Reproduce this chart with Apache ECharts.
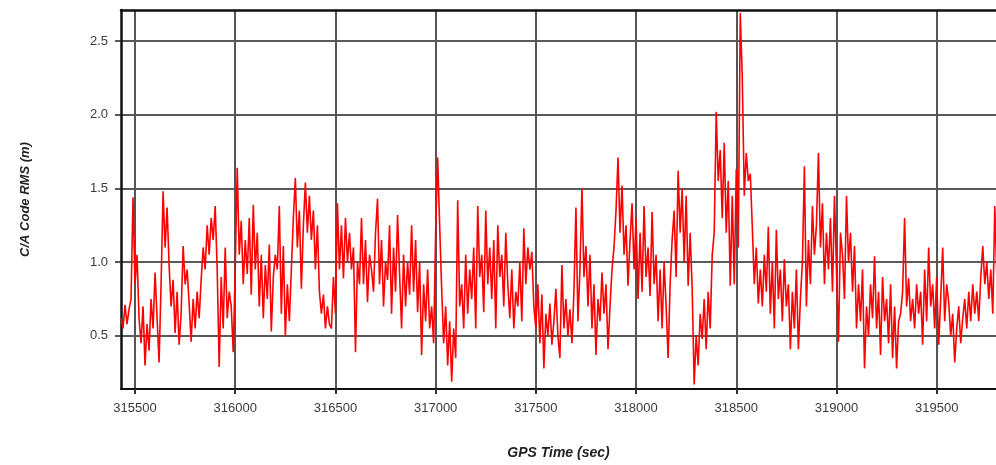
<!DOCTYPE html>
<html><head><meta charset="utf-8">
<script src="https://cdn.jsdelivr.net/npm/echarts@6/dist/echarts.min.js"></script>
<style>html,body{margin:0;padding:0;background:#fff}#c{width:996px;height:465px}</style>
</head><body><div id="c"></div>
<script>
// GPS time of first sample and sample spacing (seconds)
const startTime = 315430;
const stepSec = 10;
// C/A code RMS (m)
const rmsValues = [
0.62,0.55,0.71,0.58,0.68, 0.75,1.44,0.85,1.05,0.62, 0.45,0.70,0.30,0.58,0.40, 0.75,0.55,0.93,0.62,0.32,
0.85,1.48,1.10,1.37,0.98, 0.70,0.88,0.52,0.80,0.44, 0.65,1.11,0.85,0.95,0.72, 0.46,0.75,0.55,0.80,0.62,
0.88,1.10,0.95,1.25,1.05, 1.30,1.15,1.38,0.95,0.29, 0.90,0.55,1.10,0.62,0.80, 0.70,0.39,0.95,1.64,1.05,
1.28,0.85,1.15,0.92,1.30, 0.78,1.39,0.95,1.20,0.70, 1.05,0.62,0.98,0.75,1.12, 0.53,0.90,1.05,0.95,1.38,
0.65,1.11,0.50,0.85,0.60, 0.95,1.30,1.57,1.10,1.35, 0.82,1.25,1.54,1.20,1.45, 1.15,1.35,0.95,1.25,0.80,
0.65,0.78,0.55,0.70,0.58, 0.55,0.90,0.65,1.40,0.95, 1.25,0.89,1.30,1.00,1.20, 0.95,1.10,0.39,1.00,0.85,
1.30,0.85,1.15,0.73,1.05, 0.95,0.80,1.20,1.43,0.85, 1.15,0.70,1.00,0.88,1.25, 0.65,1.10,0.80,1.32,0.92,
0.55,1.05,0.70,1.00,0.78, 1.25,0.80,1.15,0.66,1.00, 0.37,0.85,0.60,0.95,0.55, 0.70,0.45,1.20,1.71,1.25,
0.82,0.45,0.70,0.30,0.60, 0.19,0.55,0.35,1.42,0.70, 0.85,0.55,1.05,0.65,0.95, 0.75,1.10,0.55,1.38,0.90,
1.05,0.66,1.35,0.85,1.10, 0.75,1.15,0.55,1.25,0.90, 1.05,0.70,1.20,0.85,0.62, 0.95,0.55,0.80,0.70,1.00,
0.60,1.23,0.85,1.10,0.95, 1.07,0.70,0.55,0.85,0.45, 0.78,0.28,0.65,0.50,0.72, 0.44,0.60,0.82,0.50,0.35,
0.98,0.55,0.75,0.50,0.68, 0.45,0.80,1.37,0.60,0.95, 1.50,0.90,1.11,0.70,1.05, 0.55,0.85,0.37,0.75,0.60,
0.93,0.65,0.85,0.41,0.70, 0.95,1.10,1.35,1.71,1.20, 1.52,1.05,1.25,0.84,1.15, 1.40,0.95,1.30,0.75,1.20,
0.80,1.38,0.90,1.10,0.77, 1.34,0.85,1.05,0.60,0.95, 0.55,1.00,0.70,0.35,0.85, 1.15,1.35,0.90,1.62,1.20,
1.50,1.00,1.45,0.84,1.20, 0.82,0.17,0.50,0.30,0.65, 0.48,0.75,0.41,0.80,0.55, 1.05,1.20,2.02,1.55,1.76,
1.30,1.81,1.20,1.55,0.84, 1.45,0.85,1.63,1.10,2.69, 2.25,1.45,1.74,1.55,1.60, 1.24,0.85,1.10,0.72,0.95,
0.70,1.05,0.80,1.24,0.65, 1.00,0.55,1.22,0.75,0.95, 0.60,1.02,0.70,0.85,0.41, 0.80,0.55,0.95,0.41,0.75,
1.00,1.65,0.70,1.15,0.85, 1.38,1.05,1.25,1.74,1.10, 1.40,0.85,1.20,0.95,1.30, 0.80,1.45,0.95,0.46,1.20,
1.05,0.75,1.45,1.00,1.20, 0.80,1.11,0.55,0.85,0.60, 0.95,0.28,0.70,0.50,0.85, 0.62,1.04,0.55,0.80,0.37,
0.90,0.60,0.75,0.45,0.85, 0.35,0.70,0.28,0.60,0.65, 0.80,1.30,0.70,0.89,0.60, 0.75,0.55,0.85,0.65,0.80,
0.44,0.95,0.60,1.10,0.70, 0.85,0.55,0.90,0.44,0.75, 1.10,0.60,0.85,0.73,0.50, 0.65,0.32,0.55,0.70,0.45,
0.62,0.75,0.55,0.80,0.60, 0.85,0.65,0.80,0.60,0.90, 1.11,0.85,1.00,0.75,0.95, 0.65,1.38,0.90
];
const xTicks = [315500,316000,316500,317000,317500,318000,318500,319000,319500];
const yTicks = [0.5,1.0,1.5,2.0,2.5];
const xRange = [315430, 319796];
const yRange = [0.14, 2.71];
const xTitle = 'GPS Time (sec)';
const yTitle = 'C/A Code RMS (m)';

const seriesData = rmsValues.map((v, i) => [startTime + i * stepSec, v]);
const font = 'Arial, Liberation Sans';

const chart = echarts.init(document.getElementById('c'), null, {renderer: 'canvas'});
chart.setOption({
  animation: false,
  backgroundColor: '#ffffff',
  grid: {left: 121, top: 10, right: 0, bottom: 75, show: false},
  xAxis: [{
    type: 'value', min: xRange[0], max: xRange[1],
    name: xTitle, nameLocation: 'middle', nameGap: 57,
    nameTextStyle: {fontFamily: font, fontSize: 14, fontWeight: 'bold', fontStyle: 'italic', color: '#222'},
    axisLine: {show: true, lineStyle: {color: '#111', width: 2}},
    axisTick: {show: true, length: 5, customValues: xTicks, lineStyle: {color: '#333', width: 2}},
    axisLabel: {customValues: xTicks, margin: 13, fontFamily: font, fontSize: 13, color: '#3a3a3a', formatter: v => String(v)},
    splitLine: {show: true, lineStyle: {color: '#555', width: 2}}
  }, {
    type: 'value', position: 'top', min: xRange[0], max: xRange[1],
    axisLine: {show: true, onZero: false, lineStyle: {color: '#111', width: 2.5}},
    axisTick: {show: false}, axisLabel: {show: false}, splitLine: {show: false}
  }],
  yAxis: {
    type: 'value', min: yRange[0], max: yRange[1],
    name: yTitle, nameLocation: 'middle', nameGap: 89, nameRotate: 90,
    nameTextStyle: {fontFamily: font, fontSize: 13, fontWeight: 'bold', fontStyle: 'italic', color: '#222'},
    axisLine: {show: true, lineStyle: {color: '#111', width: 2.5}},
    axisTick: {show: true, length: 6, customValues: yTicks, lineStyle: {color: '#222', width: 1.5}},
    axisLabel: {customValues: yTicks, margin: 13, fontFamily: font, fontSize: 13, color: '#3a3a3a', formatter: v => v.toFixed(1)},
    splitLine: {show: true, lineStyle: {color: '#222', width: 1.5}}
  },
  series: [{
    type: 'line', xAxisIndex: 0, data: seriesData, showSymbol: false, symbol: 'none',
    lineStyle: {color: '#ff0000', width: 1.6}, z: 1
  }]
});
</script></body></html>
